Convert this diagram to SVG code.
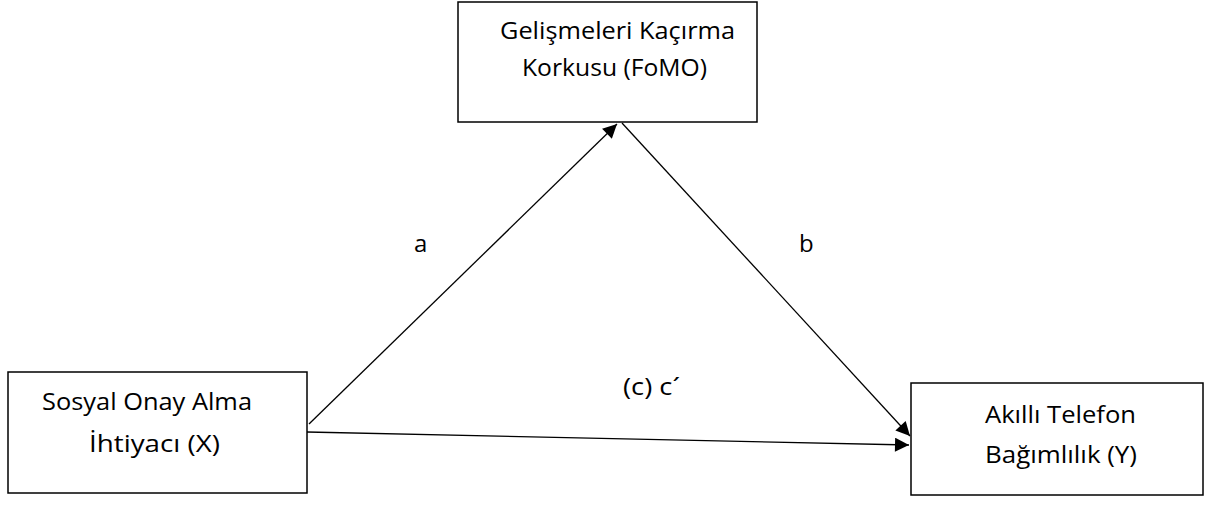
<svg xmlns="http://www.w3.org/2000/svg" width="1210" height="509" viewBox="0 0 1210 509">
<defs>
<marker id="arr" viewBox="0 0 10 10" refX="10" refY="5" markerWidth="18" markerHeight="14" markerUnits="userSpaceOnUse" orient="auto">
<path d="M0,0 L10,5 L0,10 z" fill="#000"/>
</marker>
<style>
.box{fill:#fff;stroke:#000;stroke-width:1.5}
.t{font-family:"Open Sans","Liberation Sans",sans-serif;font-size:24px;fill:#000}
.c{stroke:#000;stroke-width:1.3;fill:none}
</style>
</defs>
<rect width="1210" height="509" fill="#fff"/>
<g id="node-fomo">
<rect class="box" x="458" y="2" width="299" height="120"/>
<text class="t" x="500" y="39" textLength="235" lengthAdjust="spacingAndGlyphs">Gelişmeleri Kaçırma</text>
<text class="t" x="522" y="76" textLength="185" lengthAdjust="spacingAndGlyphs">Korkusu (FoMO)</text>
</g>
<g id="node-x">
<rect class="box" x="8" y="372" width="299" height="121"/>
<text class="t" x="42" y="410" textLength="210" lengthAdjust="spacingAndGlyphs">Sosyal Onay Alma</text>
<text class="t" x="89" y="452" textLength="131" lengthAdjust="spacingAndGlyphs">İhtiyacı (X)</text>
</g>
<g id="node-y">
<rect class="box" x="911" y="383" width="292" height="112"/>
<text class="t" x="985" y="423" textLength="151" lengthAdjust="spacingAndGlyphs">Akıllı Telefon</text>
<text class="t" x="985" y="463" textLength="152" lengthAdjust="spacingAndGlyphs">Bağımlılık (Y)</text>
</g>
<g id="connectors">
<line class="c" x1="309" y1="424" x2="617" y2="124" marker-end="url(#arr)"/>
<line class="c" x1="622" y1="123" x2="910" y2="436" marker-end="url(#arr)"/>
<line class="c" x1="307" y1="432" x2="909" y2="445" marker-end="url(#arr)"/>
<text class="t" x="414" y="252">a</text>
<text class="t" x="799" y="252">b</text>
<text class="t" x="623" y="395" textLength="57" lengthAdjust="spacingAndGlyphs">(c) c´</text>
</g>
</svg>
